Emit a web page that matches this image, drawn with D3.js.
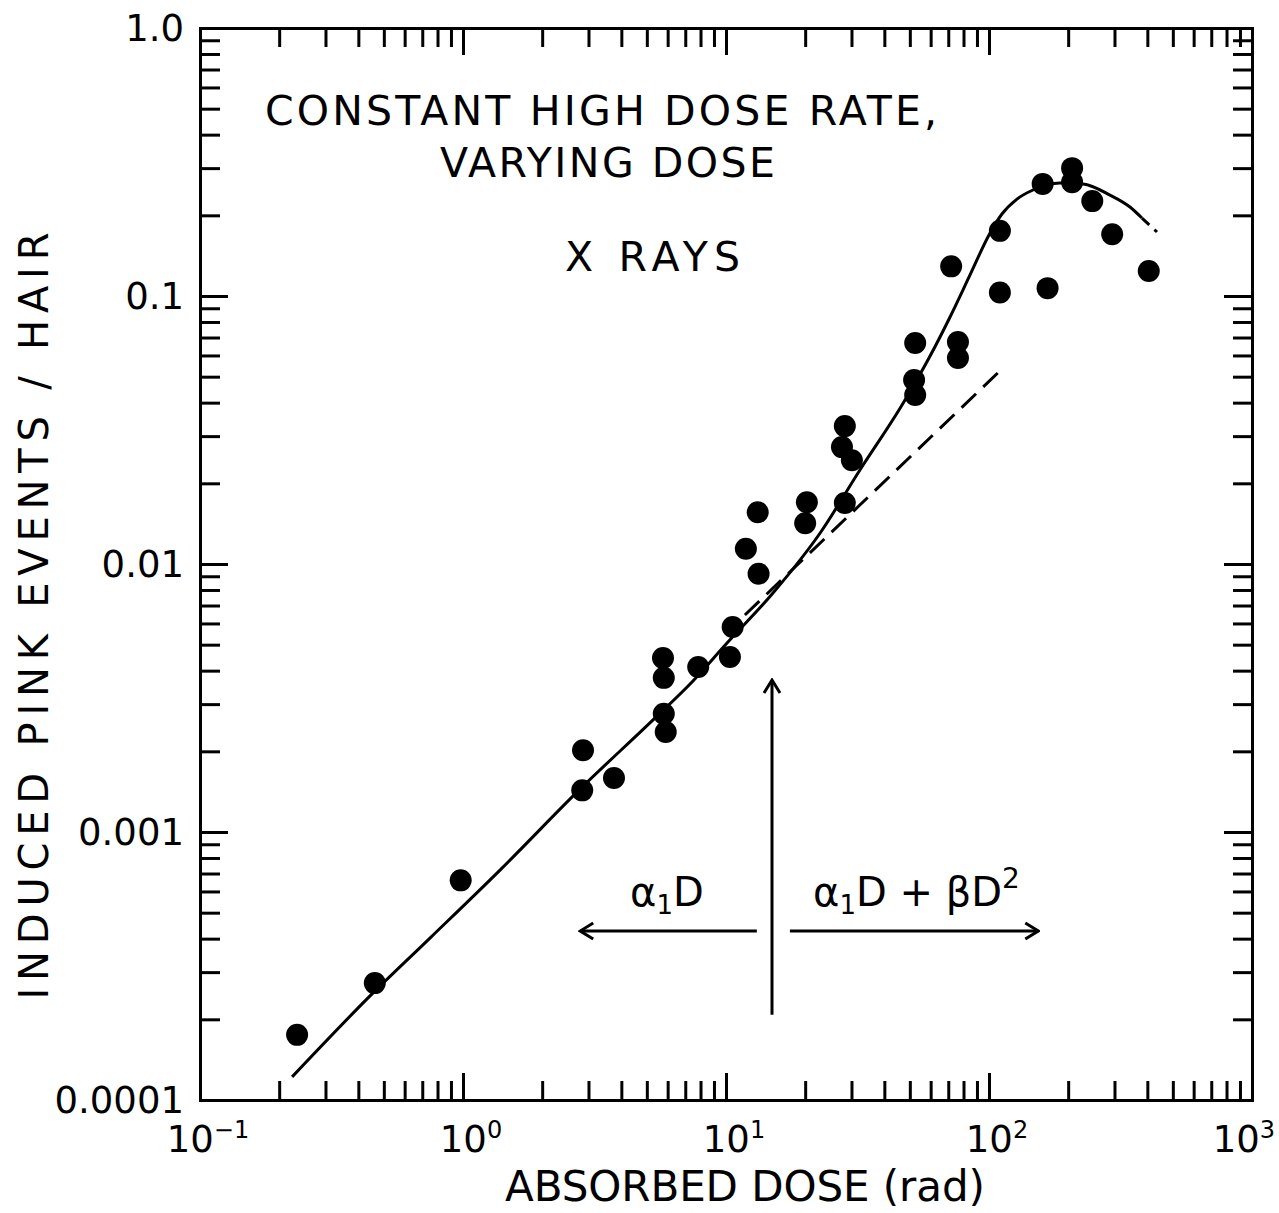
<!DOCTYPE html>
<html>
<head>
<meta charset="utf-8">
<script src="https://cdn.jsdelivr.net/npm/d3@7"></script>
<style>
  body { margin: 0; background: #fff; }
  text { font-family: "DejaVu Sans", sans-serif; fill: #000; }
  .axis path, .axis line { stroke: #000; stroke-width: 3; fill: none; }
  .axis .domain { stroke-linecap: square; }
</style>
</head>
<body>
<svg id="chart" width="1279" height="1213"></svg>
<script>

// measured points (dose in rad, induced pink events per hair)
var doseValues = [0.234, 0.462, 0.98, 2.86, 2.84, 3.75, 5.76, 5.8, 5.8, 5.9,
                  7.84, 10.35, 10.6, 11.9, 13.2, 13.3, 20.3, 20.0, 28.3, 27.6,
                  30.1, 28.3, 52.4, 51.9, 52.4, 76.2, 76.2, 71.8, 110, 110,
                  160, 167, 207, 207, 247, 294, 405];
var pinkValues = [0.000175, 0.000273, 0.00066, 0.00202, 0.00143, 0.00159, 0.00446, 0.00376, 0.00276, 0.00236,
                  0.00413, 0.0045, 0.00582, 0.0114, 0.0156, 0.0092, 0.0170, 0.0142, 0.0327, 0.0273,
                  0.0244, 0.0169, 0.0668, 0.0486, 0.0427, 0.0673, 0.0587, 0.129, 0.175, 0.103,
                  0.262, 0.107, 0.300, 0.266, 0.226, 0.170, 0.124];

// fitted curve (solid) and its broken tail
var curveDose = [0.224, 0.455, 0.749, 1.383, 2.835, 5.28, 7.49, 10.09, 15.09, 22.8,
                 32.3, 46.7, 59.7, 71.1, 84.7, 100, 112, 127.8, 147, 186.2,
                 227.8, 288.4, 343.6, 381.6];
var curveValues = [0.000122, 0.000251, 0.000402, 0.000721, 0.00147, 0.00262, 0.00366, 0.00507, 0.00779, 0.01305,
                   0.02243, 0.0392, 0.0597, 0.0835, 0.1198, 0.169, 0.2023, 0.230, 0.2486, 0.264,
                   0.2618, 0.238, 0.2148, 0.1954];
var tailDose = [381.6, 435.3];
var tailValues = [0.1954, 0.1733];

// linear term alone (dashed)
var linearDose = [11.8, 113];
var linearValues = [0.00645, 0.0539];

var xTickValues = [0.1, 1, 10, 100, 1000];
var xTickExponents = ["\u22121", "0", "1", "2", "3"];
var yTickValues = [0.0001, 0.001, 0.01, 0.1, 1];
var yTickLabels = ["0.0001", "0.001", "0.01", "0.1", "1.0"];

//====================================================================================

var margin = {top: 28, right: 27, bottom: 113, left: 200},
    width = 1279 - margin.left - margin.right,
    height = 1213 - margin.top - margin.bottom;

var svg = d3.select("#chart");
var g = svg.append("g")
    .attr("transform", "translate(" + margin.left + "," + margin.top + ")");

var x = d3.scaleLog().domain([0.1, 1000]).range([0, width]);
var y = d3.scaleLog().domain([0.0001, 1]).range([height, 0]);

// 2..9 inside every decade
var minorTicks = function(lo, hi){
    var t = [];
    for (var p = lo; p < hi; p++){
        for (var k = 2; k < 10; k++){
            t.push(k * Math.pow(10, p));
        }
    }
    return t;
};

var drawAxis = function(axisFn, scale, transform, values, size){
    g.append("g")
        .attr("class", "axis")
        .attr("transform", transform)
        .call(axisFn(scale)
            .tickValues(values)
            .tickSizeInner(-size)
            .tickSizeOuter(0)
            .tickFormat(""));
};

// inward ticks on all four sides
drawAxis(d3.axisBottom, x, "translate(0," + height + ")", minorTicks(-1, 3), 19);
drawAxis(d3.axisBottom, x, "translate(0," + height + ")", xTickValues, 27);
drawAxis(d3.axisTop, x, "translate(0,0)", minorTicks(-1, 3), 19);
drawAxis(d3.axisTop, x, "translate(0,0)", xTickValues, 27);
drawAxis(d3.axisLeft, y, "translate(0,0)", minorTicks(-4, 0), 20);
drawAxis(d3.axisLeft, y, "translate(0,0)", yTickValues, 28);
drawAxis(d3.axisRight, y, "translate(" + width + ",0)", minorTicks(-4, 0), 19);
drawAxis(d3.axisRight, y, "translate(" + width + ",0)", yTickValues, 28);

// tick labels
xTickValues.forEach(function(v, i){
    var last = i === xTickValues.length - 1;
    var t = g.append("text")
        .attr("x", last ? width + 23 : x(v) + 8)
        .attr("y", height + 52)
        .attr("text-anchor", last ? "end" : "middle")
        .style("font-size", "37px");
    t.append("tspan").text("10");
    t.append("tspan")
        .attr("dy", -14)
        .style("font-size", "24px")
        .text(xTickExponents[i]);
});

yTickValues.forEach(function(v, i){
    g.append("text")
        .attr("x", -16)
        .attr("y", y(v))
        .attr("dy", "0.36em")
        .attr("text-anchor", "end")
        .style("font-size", "37px")
        .text(yTickLabels[i]);
});

//===================================lines=====================================

var idx = function(arr){ return d3.range(arr.length); };

var line = d3.line()
    .x(function(d){ return x(d[0]); })
    .y(function(d){ return y(d[1]); });

var curvePts = idx(curveDose).map(function(i){ return [curveDose[i], curveValues[i]]; });
g.append("path")
    .attr("d", line.curve(d3.curveMonotoneX)(curvePts))
    .attr("fill", "none")
    .attr("stroke", "#000")
    .attr("stroke-width", 3);

var tailPts = idx(tailDose).map(function(i){ return [tailDose[i], tailValues[i]]; });
g.append("path")
    .attr("d", line.curve(d3.curveLinear)(tailPts))
    .attr("fill", "none")
    .attr("stroke", "#000")
    .attr("stroke-width", 3)
    .attr("stroke-dasharray", "10,7");

var linearPts = idx(linearDose).map(function(i){ return [linearDose[i], linearValues[i]]; });
g.append("path")
    .attr("d", line.curve(d3.curveLinear)(linearPts))
    .attr("fill", "none")
    .attr("stroke", "#000")
    .attr("stroke-width", 3)
    .attr("stroke-dasharray", "20,10");

//===================================points=====================================

g.selectAll("circle.pt")
    .data(idx(doseValues))
    .enter().append("circle")
    .attr("class", "pt")
    .attr("cx", function(i){ return x(doseValues[i]); })
    .attr("cy", function(i){ return y(pinkValues[i]); })
    .attr("r", 11)
    .attr("fill", "#000");

//===================================annotations=====================================

svg.append("defs").append("marker")
    .attr("id", "head")
    .attr("viewBox", "-16 -10 18 20")
    .attr("refX", 0)
    .attr("refY", 0)
    .attr("markerWidth", 18)
    .attr("markerHeight", 20)
    .attr("markerUnits", "userSpaceOnUse")
    .attr("orient", "auto")
    .append("path")
    .attr("d", "M-13,-8L0,0L-13,8")
    .attr("fill", "none")
    .attr("stroke", "#000")
    .attr("stroke-width", 3);

var arrows = [
    {from: [14.96, 0.000208], to: [14.96, 0.00369]},
    {from: [13.1, 0.000427], to: [2.79, 0.000427]},
    {from: [17.5, 0.000427], to: [154, 0.000427]}
];
arrows.forEach(function(a){
    g.append("line")
        .attr("x1", x(a.from[0])).attr("y1", y(a.from[1]))
        .attr("x2", x(a.to[0])).attr("y2", y(a.to[1]))
        .attr("stroke", "#000")
        .attr("stroke-width", 3)
        .attr("marker-end", "url(#head)");
});

var lin = svg.append("text")
    .attr("x", 630).attr("y", 906)
    .style("font-size", "40px");
lin.append("tspan").text("\u03b1");
lin.append("tspan").attr("dy", 8).style("font-size", "26px").text("1");
lin.append("tspan").attr("dy", -8).text("D");

var quad = svg.append("text")
    .attr("x", 813).attr("y", 906)
    .style("font-size", "40px");
quad.append("tspan").text("\u03b1");
quad.append("tspan").attr("dy", 8).style("font-size", "26px").text("1");
quad.append("tspan").attr("dy", -8).text("D + \u03b2D");
quad.append("tspan").attr("dy", -18).style("font-size", "28px").text("2");

// titles
svg.append("text")
    .attr("x", 265).attr("y", 125)
    .attr("textLength", 672).attr("lengthAdjust", "spacing")
    .style("font-size", "41px")
    .text("CONSTANT HIGH DOSE RATE,");
svg.append("text")
    .attr("x", 440).attr("y", 177)
    .attr("textLength", 335).attr("lengthAdjust", "spacing")
    .style("font-size", "41px")
    .text("VARYING DOSE");
svg.append("text")
    .attr("x", 565).attr("y", 271)
    .attr("textLength", 175).attr("lengthAdjust", "spacing")
    .style("font-size", "41px")
    .text("X RAYS");

svg.append("text")
    .attr("x", 505).attr("y", 1201)
    .attr("textLength", 480).attr("lengthAdjust", "spacing")
    .style("font-size", "42px")
    .text("ABSORBED DOSE (rad)");

svg.append("text")
    .attr("transform", "rotate(-90)")
    .attr("x", -616).attr("y", 48)
    .attr("text-anchor", "middle")
    .attr("textLength", 767).attr("lengthAdjust", "spacing")
    .style("font-size", "40px")
    .text("INDUCED PINK EVENTS / HAIR");

</script>
</body>
</html>
